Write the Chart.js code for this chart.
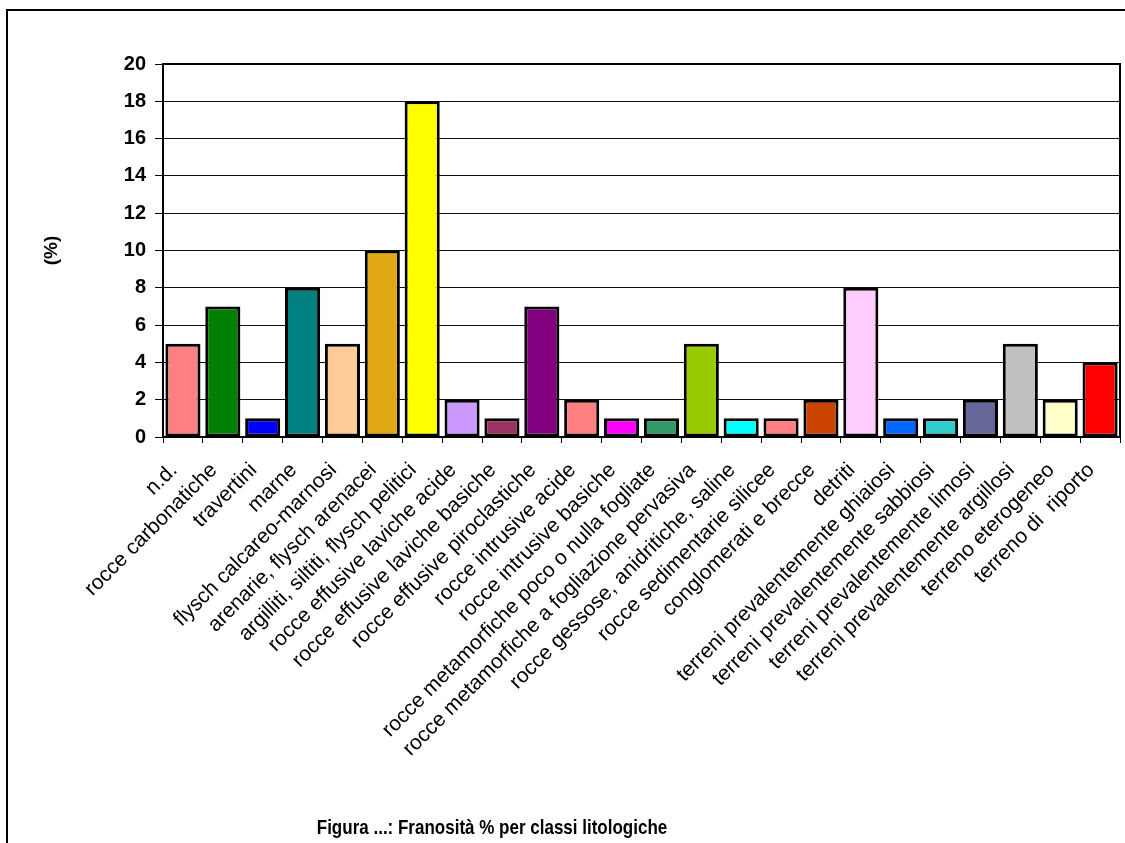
<!DOCTYPE html>
<html>
<head>
<meta charset="utf-8">
<script src="https://cdn.jsdelivr.net/npm/chart.js@4.4.1/dist/chart.umd.min.js"></script>
<style>
  html, body { margin: 0; padding: 0; background: #fff; }
  #wrap { position: relative; width: 1125px; height: 843px; overflow: hidden; }
  #frame { position: absolute; left: 6px; top: 9px; width: 1130px; height: 850px;
           border-left: 2px solid #000; border-top: 2px solid #000; }
  #chart { position: absolute; left: 0; top: 0; }
  #caption { position: absolute; left: 0; top: 818px; width: 984px; text-align: center;
             font: bold 17px "Liberation Sans", Arial, sans-serif; color: #000;
             transform: scaleY(1.15); }
</style>
</head>
<body>
<div id="wrap">
  <div id="frame"></div>
  <canvas id="chart" width="1125" height="843"></canvas>
  <div id="caption">Figura ...: Franosità % per classi litologiche</div>
</div>
<script>
const categories = [
  'n.d.',
  'rocce carbonatiche',
  'travertini',
  'marne',
  'flysch calcareo-marnosi',
  'arenarie, flysch arenacei',
  'argilliti, siltiti, flysch pelitici',
  'rocce effusive laviche acide',
  'rocce effusive laviche basiche',
  'rocce effusive piroclastiche',
  'rocce intrusive acide',
  'rocce intrusive basiche',
  'rocce metamorfiche poco o nulla fogliate',
  'rocce metamorfiche a fogliazione pervasiva',
  'rocce gessose, anidritiche, saline',
  'rocce sedimentarie silicee',
  'conglomerati e brecce',
  'detriti',
  'terreni prevalentemente ghiaiosi',
  'terreni prevalentemente sabbiosi',
  'terreni prevalentemente limosi',
  'terreni prevalentemente argillosi',
  'terreno eterogeneo',
  'terreno di  riporto'
];

const franosita = [5, 7, 1, 8, 5, 10, 18, 2, 1, 7, 2, 1, 1, 5, 1, 1, 2, 8, 1, 1, 2, 5, 2, 4];

const barColors = [
  '#FF8080', '#008000', '#0000FF', '#008080', '#FFCC99', '#E0A812',
  '#FFFF00', '#CC99FF', '#993366', '#800080', '#FF8080', '#FF00FF',
  '#339966', '#99CC00', '#00FFFF', '#FF8080', '#CC4400', '#FFCCFF',
  '#0066FF', '#33CCCC', '#666699', '#C0C0C0', '#FFFFCC', '#FF0000'
];

const yTicks = [0, 2, 4, 6, 8, 10, 12, 14, 16, 18, 20];

const FONT = '"Liberation Sans", Arial, sans-serif';

// frame round the plot area
const plotFrame = {
  id: 'plotFrame',
  afterDraw(chart) {
    const { ctx, chartArea: a } = chart;
    ctx.save();
    ctx.strokeStyle = '#000';
    ctx.lineWidth = 2;
    ctx.strokeRect(a.left, a.top, a.right - a.left, a.bottom - a.top);
    ctx.restore();
  }
};

new Chart(document.getElementById('chart'), {
  type: 'bar',
  data: {
    labels: categories,
    datasets: [{
      data: franosita,
      backgroundColor: barColors,
      borderColor: '#000',
      borderWidth: 3,
      borderSkipped: false,
      barPercentage: 0.88,
      categoryPercentage: 1
    }]
  },
  options: {
    responsive: false,
    animation: false,
    layout: { padding: { left: 40, top: 64, right: 5, bottom: 0 } },
    plugins: {
      legend: { display: false },
      tooltip: { enabled: false }
    },
    scales: {
      x: {
        afterFit: s => { s.height = 843 - 437; s.paddingLeft = 0; s.paddingRight = 0; },
        grid: { offset: true, drawOnChartArea: false, tickLength: 6, tickColor: '#000', lineWidth: 1 },
        border: { color: '#000', width: 2 },
        ticks: {
          autoSkip: false,
          minRotation: 45,
          maxRotation: 45,
          padding: 15,
          labelOffset: -9,
          color: '#000',
          font: { family: FONT, size: 21 }
        }
      },
      y: {
        min: 0,
        max: 20,
        afterFit: s => { s.width = 123; },
        afterBuildTicks: s => { s.ticks = yTicks.map(v => ({ value: v })); },
        grid: { color: '#111', lineWidth: 1, tickLength: 8, tickColor: '#000' },
        border: { color: '#000', width: 2 },
        ticks: {
          padding: 9,
          color: '#000',
          font: { family: FONT, size: 20, weight: 'bold' }
        },
        title: {
          display: true,
          text: '(%)',
          color: '#000',
          padding: 0,
          font: { family: FONT, size: 19, weight: 'bold' }
        }
      }
    }
  },
  plugins: [plotFrame]
});
</script>
</body>
</html>
